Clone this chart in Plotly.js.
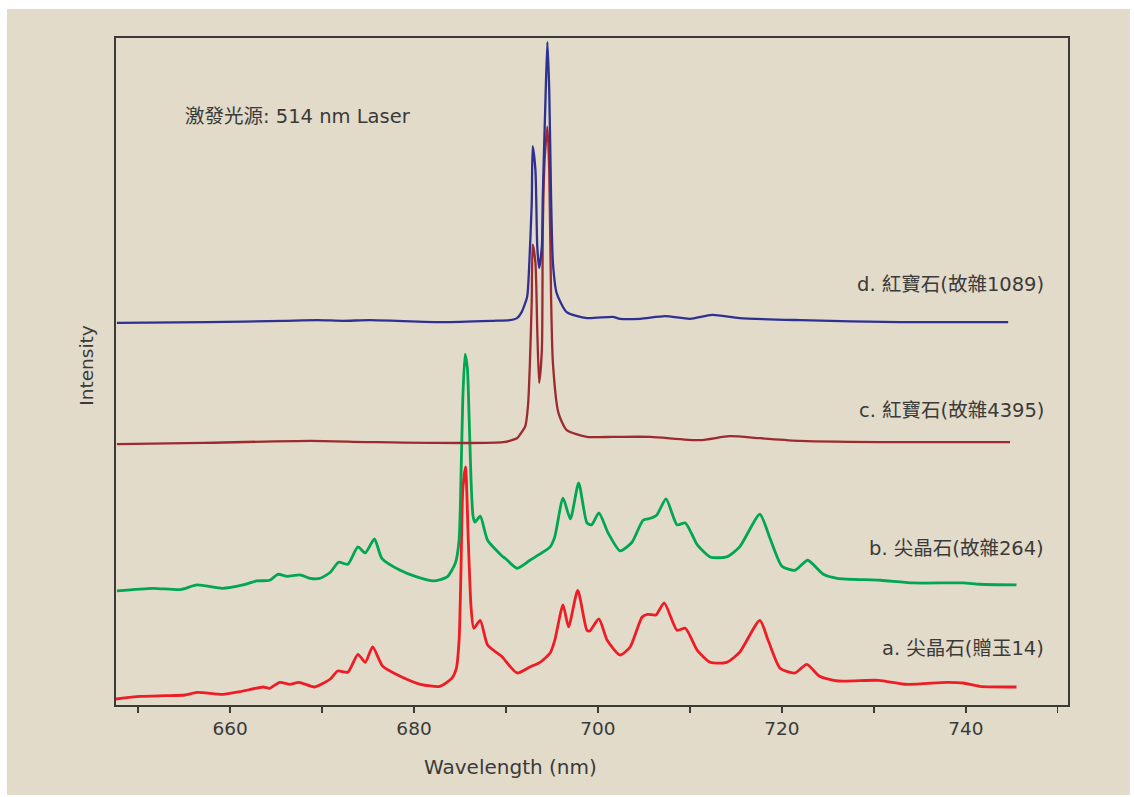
<!DOCTYPE html>
<html>
<head>
<meta charset="utf-8">
<script src="https://cdn.plot.ly/plotly-3.0.1.min.js"></script>
<style>html,body{margin:0;padding:0;background:#fff;}#chart{width:1134px;height:797px;}</style>
</head>
<body>
<div id="chart"></div>
<script>
// a. 尖晶石(贈玉14)
const aWl  = [647.6,650.2,653.0,655.1,656.4,659.2,661.1,663.6,664.3,665.4,666.5,667.5,669.2,670.9,671.7,672.8,673.9,674.7,675.5,676.6,678.5,680.7,682.8,684.1,684.6,684.9,685.1,685.3,685.6,685.9,686.2,686.5,687.2,688.0,689.6,689.9,691.2,692.6,693.7,694.8,695.3,696.2,696.8,697.8,698.8,699.1,700.1,701.0,702.4,703.5,704.8,705.4,706.3,707.2,708.6,709.5,710.8,712.2,714.0,715.4,717.6,718.5,719.8,721.4,722.7,724.1,726.1,730.5,733.6,737.9,739.7,741.5,745.5];
const aInt = [0.9,1.3,1.4,1.5,1.9,1.6,2.0,2.7,2.5,3.4,3.1,3.4,2.7,3.9,5.1,4.9,7.6,6.4,8.7,5.8,4.3,3.1,2.8,4.0,5.5,9.7,19.8,32.2,35.7,24.7,14.7,11.5,12.7,9.0,7.2,6.7,4.8,5.7,6.4,7.8,9.7,15.0,11.7,17.2,11.2,11.1,12.9,9.7,7.5,8.7,13.2,13.6,13.5,15.3,11.2,11.5,8.2,6.4,6.4,7.9,12.7,9.7,5.5,4.8,6.1,4.3,3.6,3.7,3.1,3.4,3.3,2.8,2.7];

// b. 尖晶石(故雜264)
const bWl  = [647.7,651.6,654.6,656.4,659.2,661.4,662.9,664.3,665.2,666.2,667.6,668.7,669.8,670.9,671.8,672.8,673.9,674.7,675.7,676.5,678.5,680.3,682.1,683.6,684.5,684.9,685.1,685.3,685.55,685.8,686.0,686.2,686.4,686.6,687.2,688.0,689.6,689.9,691.2,692.6,694.8,695.3,696.2,697.0,697.9,698.8,699.3,700.1,701.1,702.4,703.7,704.9,705.7,706.4,707.4,708.6,709.5,710.8,712.2,714.0,715.4,717.6,718.7,720.0,721.4,722.8,724.5,726.0,730.7,734.2,739.7,741.5,745.5];
const bInt = [17.1,17.5,17.3,18.0,17.5,18.0,18.6,18.7,19.6,19.3,19.5,19.0,19.0,19.9,21.4,21.1,23.7,22.8,24.9,22.0,20.2,19.2,18.6,19.2,21.3,24.7,33.7,45.7,52.6,50.5,42.7,33.7,28.5,27.4,28.3,24.7,22.3,22.0,20.5,21.7,23.7,25.2,31.0,27.9,33.3,27.3,27.0,28.8,25.8,23.1,24.4,27.7,28.0,28.5,30.9,27.0,27.3,24.0,22.2,22.2,23.7,28.6,25.0,20.8,20.2,21.7,19.6,19.0,18.7,18.3,18.3,18.1,18.0];

// c. 紅寶石(故雜4395)
const cWl  = [647.7,657.1,668.7,676.0,689.7,691.2,691.5,692.1,692.4,692.6,692.8,692.9,693.2,693.4,693.6,693.9,694.0,694.2,694.5,694.7,694.9,695.1,695.7,696.6,698.8,701.6,705.7,711.1,714.3,717.6,722.0,732.8,744.8];
const cInt = [39.1,39.3,39.6,39.4,39.4,40.0,40.5,41.8,45.0,51.3,60.7,69.0,66.3,56.2,48.3,53.2,71.2,81.7,86.7,80.2,61.2,51.3,43.8,41.2,40.2,40.2,40.2,39.7,40.3,40.0,39.6,39.4,39.4];

// d. 紅寶石(故雜1089)
const dWl  = [647.7,657.5,665.8,669.5,672.3,675.2,683.2,688.6,690.4,691.2,691.7,692.3,692.5,692.8,692.9,693.2,693.4,693.6,693.9,694.0,694.3,694.5,694.7,694.9,695.1,695.5,696.6,698.8,701.6,702.4,704.6,707.3,710.0,712.4,715.4,722.0,732.8,744.6];
const dInt = [57.3,57.4,57.6,57.7,57.6,57.7,57.4,57.6,57.7,58.0,58.9,61.2,65.2,75.3,83.8,80.2,68.7,65.5,68.7,76.2,91.2,99.4,92.2,76.2,66.3,61.8,58.9,58.0,58.2,57.9,57.9,58.3,57.9,58.5,58.0,57.7,57.4,57.4];

const seriesLabels = ["a. 尖晶石(贈玉14)","b. 尖晶石(故雜264)","c. 紅寶石(故雜4395)","d. 紅寶石(故雜1089)"];
const labelY = [8.5, 23.4, 44.2, 63.0];
const noteText = "激發光源: 514 nm Laser";
const xTitle = "Wavelength (nm)";
const yTitle = "Intensity";

const FONT = "'DejaVu Sans', 'Noto Sans CJK TC', sans-serif";
const TXT = "#3a3a3a";

const lineOpts = (c, w) => ({color: c, width: w, shape: "spline", smoothing: 0.6});
const traces = [
  {x: aWl, y: aInt, mode: "lines", line: lineOpts("#ee1d25", 2.8)},
  {x: bWl, y: bInt, mode: "lines", line: lineOpts("#00a651", 2.8)},
  {x: cWl, y: cInt, mode: "lines", line: lineOpts("#9b2b30", 2.3)},
  {x: dWl, y: dInt, mode: "lines", line: lineOpts("#2e3192", 2.3)}
];

const annotations = seriesLabels.map((t, i) => ({
  x: 748.7, y: labelY[i], xref: "x", yref: "y", text: t, showarrow: false,
  xanchor: "right", yanchor: "middle", font: {family: FONT, size: 19.5, color: TXT}
}));
annotations.push({x: 654.9, y: 88.2, xref: "x", yref: "y", text: noteText, showarrow: false,
  xanchor: "left", yanchor: "middle", font: {family: FONT, size: 19.5, color: TXT}});
annotations.push({x: 0.414, y: -0.093, xref: "paper", yref: "paper", text: xTitle, showarrow: false,
  xanchor: "center", yanchor: "middle", font: {family: FONT, size: 20, color: TXT}});
annotations.push({x: -0.0305, y: 0.51, xref: "paper", yref: "paper", text: yTitle, showarrow: false,
  textangle: -90, xanchor: "center", yanchor: "middle", font: {family: FONT, size: 18.5, color: TXT}});

const layout = {
  width: 1134, height: 797,
  margin: {l: 116, r: 66, t: 38, b: 92, pad: 0},
  paper_bgcolor: "#ffffff",
  plot_bgcolor: "rgba(0,0,0,0)",
  showlegend: false,
  xaxis: {
    range: [647.6, 751.1], showgrid: false, zeroline: false,
    showline: true, mirror: true, linecolor: "#3c3a36", linewidth: 2,
    tick0: 660, dtick: 20, ticks: "outside", ticklen: 6, tickwidth: 1.2, tickcolor: "#3c3a36",
    minor: {dtick: 10, tick0: 650, ticks: "outside", ticklen: 6, tickwidth: 1.2, tickcolor: "#3c3a36"},
    tickfont: {family: FONT, size: 18.5, color: TXT}
  },
  yaxis: {
    range: [0, 100], showgrid: false, zeroline: false, showticklabels: false, ticks: "",
    showline: true, mirror: true, linecolor: "#3c3a36", linewidth: 2
  },
  shapes: [{type: "rect", xref: "paper", yref: "paper", x0: -0.1145, x1: 1.065, y0: -0.135, y1: 1.0435,
    fillcolor: "#e2dbc9", line: {width: 0}, layer: "below"}],
  annotations: annotations
};

Plotly.newPlot("chart", traces, layout, {staticPlot: true, displayModeBar: false});
</script>
</body>
</html>
